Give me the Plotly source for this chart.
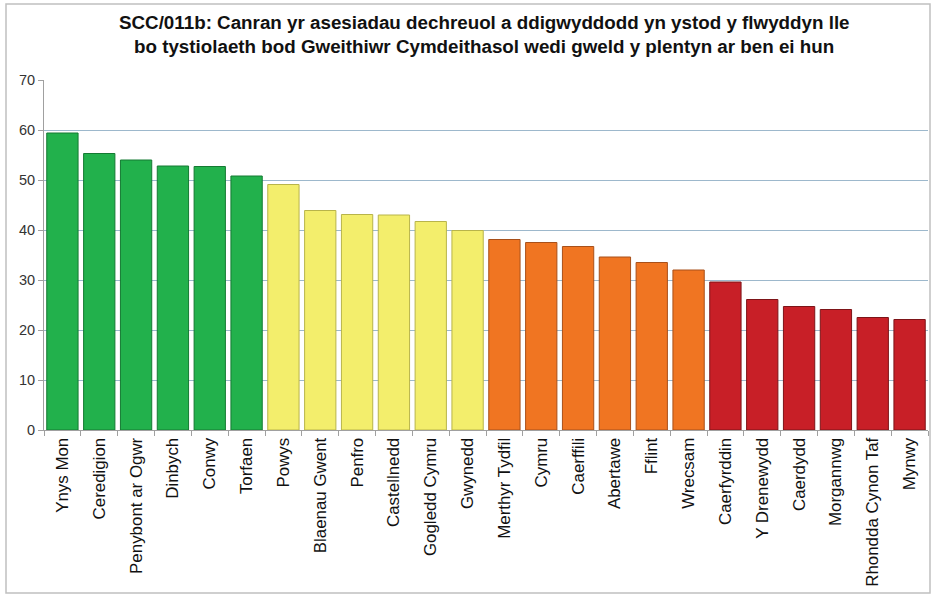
import plotly.graph_objects as go

categories = ["Ynys Mon", "Ceredigion", "Penybont ar Ogwr", "Dinbych", "Conwy", "Torfaen",
              "Powys", "Blaenau Gwent", "Penfro", "Castellnedd", "Gogledd Cymru", "Gwynedd",
              "Merthyr Tydfil", "Cymru", "Caerffili", "Abertawe", "Fflint", "Wrecsam",
              "Caerfyrddin", "Y Drenewydd", "Caerdydd", "Morgannwg", "Rhondda Cynon Taf", "Mynwy"]
values = [59.4, 55.3, 54.0, 52.8, 52.7, 50.8,
          49.1, 43.9, 43.1, 43.0, 41.7, 39.9,
          38.1, 37.5, 36.7, 34.6, 33.5, 32.0,
          29.6, 26.1, 24.7, 24.1, 22.5, 22.1]
groups = ["green"] * 6 + ["yellow"] * 6 + ["orange"] * 6 + ["red"] * 6
y_ticks = [0, 10, 20, 30, 40, 50, 60, 70]
title_lines = ["SCC/011b: Canran yr asesiadau dechreuol a ddigwyddodd yn ystod y flwyddyn lle",
               "bo tystiolaeth bod Gweithiwr Cymdeithasol wedi gweld y plentyn ar ben ei hun"]

fill = {"green": "#22b14c", "yellow": "#f3ee6c", "orange": "#f07522", "red": "#c81f27"}
edge = {"green": "#147a32", "yellow": "#b8b44a", "orange": "#a8501a", "red": "#7d1418"}

fig = go.Figure(go.Bar(
    x=categories, y=values,
    marker=dict(color=[fill[g] for g in groups],
                line=dict(color=[edge[g] for g in groups], width=1)),
    hoverinfo="x+y",
))

# plot area: x 44..928, y 80..430 (pixels)
H_PLOT = 350.0
W_PLOT = 884.0
def ypaper(py):
    return (430 - py) / H_PLOT
def xpaper(px):
    return (px - 44) / W_PLOT

annotations = []
for line, py in zip(title_lines, [22, 47]):
    annotations.append(dict(
        text="<b>" + line + "</b>", xref="paper", yref="paper",
        x=xpaper(484), y=ypaper(py), xanchor="center", yanchor="middle",
        showarrow=False,
        font=dict(size=18.8, family="Liberation Sans, Arial, sans-serif", color="#111111"),
    ))

fig.update_layout(
    width=932, height=596,
    margin=dict(l=44, r=4, t=80, b=166, autoexpand=False),
    paper_bgcolor="white", plot_bgcolor="white",
    bargap=0.15,
    showlegend=False,
    font=dict(family="Liberation Sans, Arial, sans-serif", color="#222222"),
    annotations=annotations,
    xaxis=dict(
        type="category", tickangle=-90, tickfont=dict(size=16.9, color="#111111"),
        showline=True, linecolor="#a0a0a0", linewidth=1,
        ticks="outside", tickson="boundaries", ticklen=5, tickcolor="#a0a0a0",
        showgrid=False, automargin=False,
    ),
    yaxis=dict(
        range=[0, 70], tickvals=y_ticks, tickfont=dict(size=14.5, color="#333333"),
        showgrid=True, gridcolor="#9db8cc", gridwidth=1,
        showline=True, linecolor="#a0a0a0", linewidth=1,
        ticks="outside", ticklen=5, tickcolor="#a0a0a0",
        zeroline=False, automargin=False,
    ),
    shapes=[dict(type="rect", xref="paper", yref="paper",
                 x0=xpaper(6), x1=xpaper(930),
                 y0=ypaper(593), y1=ypaper(4),
                 line=dict(color="#c0c0c0", width=1.5), fillcolor="rgba(0,0,0,0)", layer="below")],
)

fig.write_html("out.html", config={"displayModeBar": False},
               post_script="document.body.style.margin='0px';document.body.style.overflow='hidden';")
